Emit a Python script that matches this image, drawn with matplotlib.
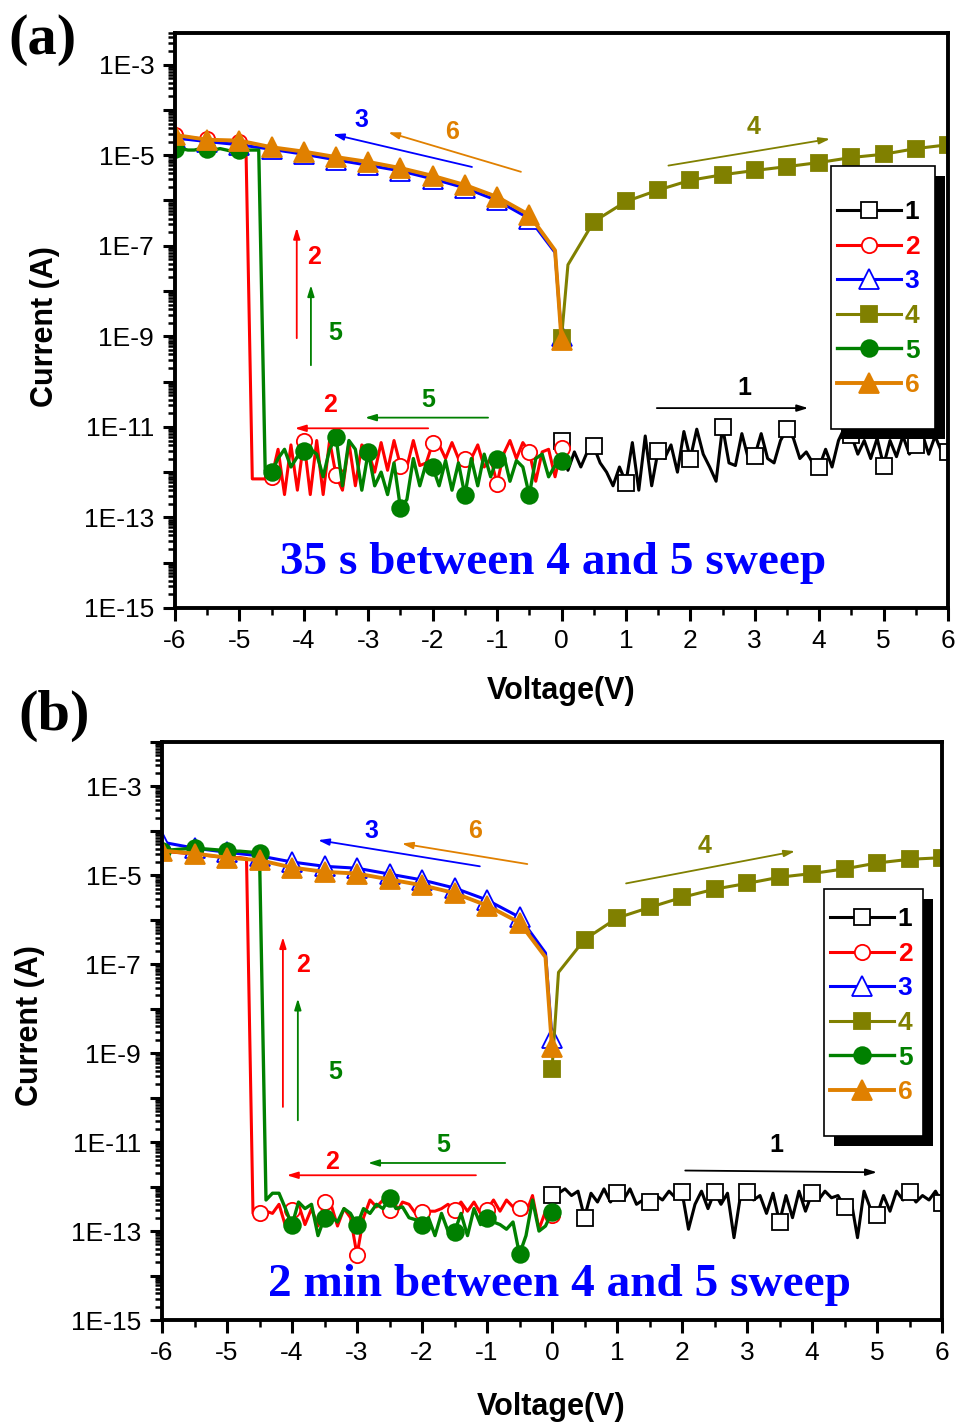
import numpy as np
import matplotlib
matplotlib.use('Agg')
import matplotlib.pyplot as plt
from matplotlib.ticker import LogLocator, FuncFormatter, MultipleLocator, NullFormatter
from matplotlib.patches import Rectangle
from matplotlib.transforms import ScaledTranslation

plt.rcParams['font.family'] = ['Liberation Sans', 'DejaVu Sans']

# sweep voltages: fine sweeps (0.1 V step) and the smoother branches
v_fwd = np.linspace(0, 6, 61)
v_rev = np.linspace(0, -6, 61)
v_fwd_c = [0, 0.1, 0.5, 1, 1.5, 2, 2.5, 3, 3.5, 4, 4.5, 5, 5.5, 6]
v_rev_c = [0, -0.1, -0.5, -1, -1.5, -2, -2.5, -3, -3.5, -4, -4.5, -5, -5.5, -6]

# ---------------- (a) 35 s wait ----------------
a_i1 = [5.0e-12, 1.1e-12, 2.8e-12, 1.3e-12, 2.8e-12, 3.7e-12, 1.6e-12, 1.0e-12, 5.0e-13, 1.3e-12,
        5.9e-13, 4.5e-12, 4.0e-13, 6.3e-12, 5.0e-13, 3.0e-12, 2.0e-12, 4.0e-12, 1.0e-12, 7.9e-12,
        2.0e-12, 8.9e-12, 2.5e-12, 1.3e-12, 6.3e-13, 1.0e-11, 1.6e-12, 1.4e-12, 7.1e-12, 2.0e-12,
        2.3e-12, 7.1e-12, 2.0e-12, 1.6e-12, 5.0e-12, 8.9e-12, 5.6e-12, 2.0e-12, 2.8e-12, 1.6e-12,
        1.3e-12, 3.2e-12, 1.3e-12, 5.0e-12, 1.0e-11, 6.5e-12, 2.5e-12, 5.0e-12, 2.0e-12, 5.6e-12,
        1.4e-12, 5.0e-12, 2.2e-12, 6.3e-12, 2.5e-12, 3.9e-12, 7.1e-12, 2.5e-12, 6.3e-12, 2.8e-12,
        2.8e-12]
a_i2 = [3.4e-12, 7.9e-13, 3.2e-12, 2.8e-12, 6.3e-13, 2.8e-12, 4.5e-12, 2.0e-12, 5.0e-12, 2.5e-12,
        5.6e-13, 2.0e-12, 1.3e-12, 4.0e-12, 2.0e-12, 2.0e-12, 2.0e-12, 4.5e-12, 2.0e-12, 4.0e-12,
        4.4e-12, 1.6e-12, 1.4e-12, 5.0e-12, 1.3e-12, 1.4e-12, 5.0e-12, 1.1e-12, 4.5e-12, 1.0e-12,
        2.8e-12, 4.0e-12, 5.0e-13, 4.5e-12, 4.0e-13, 8.5e-13, 5.0e-12, 3.2e-13, 5.0e-12, 3.2e-13,
        5.0e-12, 4.0e-13, 4.0e-12, 3.2e-13, 3.2e-12, 7.8e-13, 7.1e-13, 7.1e-13, 7.1e-13, 1.9e-5,
        2.0e-5, 2.0e-5, 2.1e-5, 2.1e-5, 2.1e-5, 2.3e-5, 2.3e-5, 2.4e-5, 2.5e-5, 2.6e-5,
        2.8e-5]
a_i3 = [1.0e-9, 7.1e-8, 4.0e-7, 1.0e-6, 1.9e-6, 3.0e-6, 4.5e-6, 6.0e-6, 7.9e-6, 1.05e-5,
        1.35e-5, 1.7e-5, 2.0e-5, 2.4e-5]
a_i4 = [9.1e-10, 3.8e-8, 3.4e-7, 9.5e-7, 1.7e-6, 2.8e-6, 3.7e-6, 4.6e-6, 5.6e-6, 6.9e-6,
        8.9e-6, 1.05e-5, 1.4e-5, 1.7e-5]
a_i5 = [1.8e-12, 1.4e-12, 7.9e-13, 2.5e-12, 2.0e-12, 3.1e-13, 1.3e-12, 1.8e-12, 6.3e-13, 2.5e-12,
        2.0e-12, 7.9e-13, 2.5e-12, 5.0e-13, 2.0e-12, 3.1e-13, 1.6e-12, 4.0e-13, 1.8e-12, 5.0e-13,
        1.3e-12, 1.6e-12, 5.0e-13, 2.0e-12, 2.5e-13, 1.6e-13, 1.6e-12, 3.2e-13, 1.0e-12, 5.0e-13,
        2.8e-12, 4.0e-13, 3.2e-12, 5.0e-12, 5.0e-13, 5.9e-12, 3.2e-12, 7.9e-13, 2.5e-12, 3.2e-12,
        3.0e-12, 2.2e-12, 1.3e-12, 3.2e-12, 2.0e-12, 1.0e-12, 1.1e-12, 1.3e-5, 1.3e-5, 1.3e-5,
        1.3e-5, 1.2e-5, 1.3e-5, 1.4e-5, 1.3e-5, 1.4e-5, 1.4e-5, 1.3e-5, 1.3e-5, 1.4e-5,
        1.4e-5]
a_i6 = [8.3e-10, 7.9e-8, 4.8e-7, 1.2e-6, 2.2e-6, 3.5e-6, 5.2e-6, 7.1e-6, 9.1e-6, 1.2e-5,
        1.5e-5, 2.1e-5, 2.2e-5, 2.8e-5]

# ---------------- (b) 2 min wait ----------------
b_i1 = [6.5e-13, 7.1e-13, 8.9e-13, 6.3e-13, 7.9e-13, 2.0e-13, 7.1e-13, 4.5e-13, 8.9e-13, 4.5e-13,
        7.1e-13, 5.0e-13, 8.9e-13, 4.0e-13, 5.0e-13, 4.5e-13, 6.3e-13, 5.0e-13, 7.9e-13, 5.6e-13,
        7.6e-13, 1.1e-13, 4.0e-13, 7.9e-13, 3.2e-13, 7.6e-13, 4.0e-13, 7.1e-13, 7.1e-14, 6.3e-13,
        7.6e-13, 5.0e-13, 6.3e-13, 2.5e-13, 7.1e-13, 1.6e-13, 6.3e-13, 2.0e-13, 7.9e-13, 2.8e-13,
        7.1e-13, 5.0e-13, 7.9e-13, 5.6e-13, 6.3e-13, 3.5e-13, 5.0e-13, 7.1e-14, 7.9e-13, 3.2e-13,
        2.3e-13, 6.3e-13, 2.8e-13, 7.9e-13, 5.0e-13, 7.6e-13, 4.5e-13, 6.3e-13, 5.0e-13, 7.9e-13,
        4.3e-13]
b_i2 = [2.3e-13, 2.8e-13, 1.1e-13, 6.3e-13, 2.5e-13, 3.3e-13, 3.5e-13, 5.0e-13, 2.8e-13, 5.0e-13,
        3.0e-13, 2.5e-13, 4.5e-13, 2.8e-13, 4.5e-13, 3.0e-13, 4.0e-13, 3.2e-13, 2.8e-13, 2.8e-13,
        2.7e-13, 2.5e-13, 4.0e-13, 4.5e-13, 2.5e-13, 3.0e-13, 5.0e-13, 3.5e-13, 5.0e-13, 2.0e-13,
        2.9e-14, 2.0e-13, 3.2e-13, 1.3e-13, 4.0e-13, 4.5e-13, 1.3e-13, 3.2e-13, 1.4e-13, 4.0e-13,
        3.0e-13, 1.3e-13, 4.0e-13, 2.5e-13, 2.8e-13, 2.5e-13, 2.5e-13, 2.4e-5, 2.5e-5, 2.5e-5,
        2.5e-5, 2.6e-5, 2.7e-5, 2.8e-5, 2.9e-5, 3.0e-5, 3.1e-5, 3.2e-5, 3.3e-5, 3.4e-5,
        3.5e-5]
b_i3 = [2.2e-9, 1.8e-7, 1.15e-6, 2.8e-6, 5.2e-6, 7.9e-6, 1.07e-5, 1.45e-5, 1.6e-5, 2.0e-5,
        2.75e-5, 3.3e-5, 4.1e-5, 5.6e-5]
b_i4 = [4.4e-10, 6.6e-8, 3.6e-7, 1.1e-6, 1.9e-6, 3.2e-6, 4.9e-6, 6.6e-6, 9.1e-6, 1.1e-5,
        1.4e-5, 1.9e-5, 2.3e-5, 2.5e-5]
b_i5 = [2.7e-13, 1.3e-13, 1.0e-13, 5.0e-13, 7.9e-14, 3.0e-14, 1.6e-13, 1.1e-13, 1.4e-13, 1.6e-13,
        2.0e-13, 1.4e-13, 3.2e-13, 7.9e-14, 2.5e-13, 9.5e-14, 1.0e-13, 2.5e-13, 7.9e-14, 2.0e-13,
        1.4e-13, 1.8e-13, 2.0e-13, 3.5e-13, 3.2e-13, 5.5e-13, 3.2e-13, 4.0e-13, 2.5e-13, 3.2e-13,
        1.35e-13, 2.5e-13, 3.2e-13, 1.6e-13, 2.2e-13, 2.0e-13, 7.9e-14, 4.0e-13, 3.2e-13, 4.5e-13,
        1.35e-13, 3.2e-13, 7.1e-13, 7.1e-13, 5.0e-13, 3.2e-5, 3.3e-5, 3.4e-5, 3.5e-5, 3.5e-5,
        3.6e-5, 3.7e-5, 3.8e-5, 3.9e-5, 4.0e-5, 4.1e-5, 4.0e-5, 3.9e-5, 3.8e-5, 3.7e-5,
        3.5e-5]
b_i6 = [1.35e-9, 1.45e-7, 8.7e-7, 2.1e-6, 4.0e-6, 6.0e-6, 8.1e-6, 1.1e-5, 1.2e-5, 1.5e-5,
        2.2e-5, 2.5e-5, 3.1e-5, 3.6e-5]

labels = ['1', '2', '3', '4', '5', '6']
colors = ['black', '#FF0000', '#0000FF', '#808000', '#008000', '#E08000']
markers = ['s', 'o', '^', 's', 'o', '^']
filled = [False, False, False, True, True, True]
msizes = [11, 11, 14, 11, 12, 14]
lwidths = [2.2, 2.2, 2.2, 2.2, 2.4, 2.8]

fig = plt.figure(figsize=(9.6, 14.23), dpi=100)
ax1 = fig.add_axes([175/960, 1-608/1423, 773/960, 575/1423])
ax2 = fig.add_axes([162/960, 1-1320/1423, 780/960, 578/1423])


def draw_curves(ax, curves):
    for k, (v, cur) in enumerate(curves):
        every = 5 if len(v) == 61 else [0] + list(range(2, len(v)))
        ax.plot(v, cur, color=colors[k], lw=lwidths[k], marker=markers[k],
                ms=msizes[k], mec=colors[k], mew=1.3,
                mfc=colors[k] if filled[k] else 'white',
                markevery=every, label=labels[k], zorder=2 + 0.1*k)


def dec_label(val, pos):
    e = int(round(np.log10(val)))
    return '1E%d' % e if e % 2 else ''


def style_axes(ax, ytop):
    ax.set_yscale('log')
    ax.set_xlim(-6, 6)
    ax.set_ylim(1e-15, ytop)
    ax.xaxis.set_major_locator(MultipleLocator(1))
    ax.xaxis.set_minor_locator(MultipleLocator(0.5))
    ax.yaxis.set_major_locator(LogLocator(base=10, numticks=30))
    ax.yaxis.set_minor_locator(LogLocator(base=10, subs=np.arange(2, 10), numticks=30))
    ax.yaxis.set_major_formatter(FuncFormatter(dec_label))
    ax.yaxis.set_minor_formatter(NullFormatter())
    ax.xaxis.set_major_formatter(FuncFormatter(lambda x, p: '%d' % x))
    for s in ax.spines.values():
        s.set_linewidth(2.8)
    ax.tick_params(which='major', direction='out', length=9, width=2.2,
                   labelsize=19, pad=6)
    ax.tick_params(which='minor', direction='out', length=5, width=1.8)
    ax.set_xlabel('Voltage(V)', fontsize=22, weight='bold')
    ax.set_ylabel('Current (A)', fontsize=22, weight='bold')


def legend_box(ax, box, anchor):
    x0, y0, x1, y1 = box
    off = ScaledTranslation(10/100, -10/100, fig.dpi_scale_trans)
    ax.add_patch(Rectangle((x0, y0), x1 - x0, y1 - y0, transform=ax.transAxes + off,
                           facecolor='black', edgecolor='none', zorder=6, clip_on=False))
    ax.add_patch(Rectangle((x0, y0), x1 - x0, y1 - y0, transform=ax.transAxes,
                           facecolor='white', edgecolor='black', lw=1.2, zorder=7,
                           clip_on=False))
    leg = ax.legend(loc='upper left', bbox_to_anchor=anchor, frameon=False,
                    numpoints=1, handlelength=2.4, handletextpad=0.15,
                    labelspacing=0.40, borderpad=0, borderaxespad=0,
                    labelcolor='linecolor', prop={'weight': 'bold', 'size': 19})
    leg.set_zorder(8)


def arrow(ax, tail, head, color):
    ax.annotate('', xy=head, xytext=tail,
                arrowprops=dict(arrowstyle='-|>,head_length=0.65,head_width=0.2',
                                color=color, lw=1.3, shrinkA=0, shrinkB=0))


def tag(ax, x, y, s, color):
    ax.text(x, y, s, color=color, fontsize=18, weight='bold', ha='center', va='center')


# ---------------- panel (a) ----------------
draw_curves(ax1, [(v_fwd, a_i1), (v_rev, a_i2), (v_rev_c, a_i3),
                  (v_fwd_c, a_i4), (v_rev, a_i5), (v_rev_c, a_i6)])
style_axes(ax1, 5e-3)
ax1.xaxis.set_label_coords(0.50, -0.118)
ax1.yaxis.set_label_coords(-0.149, 0.49)
legend_box(ax1, (0.8486, 0.3113, 0.9832, 0.7687), (0.857, 0.709))

arrow(ax1, (-1.39, 5.5e-6), (-3.55, 2.9e-5), colors[2])
tag(ax1, -3.10, 6.0e-5, '3', colors[2])
arrow(ax1, (-0.63, 4.3e-6), (-2.69, 3.2e-5), colors[5])
tag(ax1, -1.70, 3.3e-5, '6', colors[5])
arrow(ax1, (1.66, 5.9e-6), (4.17, 2.3e-5), colors[3])
tag(ax1, 2.98, 4.1e-5, '4', colors[3])
arrow(ax1, (-4.11, 9.1e-10), (-4.11, 2.5e-7), colors[1])
tag(ax1, -3.84, 5.6e-8, '2', colors[1])
arrow(ax1, (-3.89, 2.3e-10), (-3.89, 1.35e-8), colors[4])
tag(ax1, -3.52, 1.2e-9, '5', colors[4])
arrow(ax1, (-2.07, 9.3e-12), (-4.14, 9.3e-12), colors[1])
tag(ax1, -3.59, 3.0e-11, '2', colors[1])
arrow(ax1, (-1.14, 1.6e-11), (-3.05, 1.6e-11), colors[4])
tag(ax1, -2.07, 3.9e-11, '5', colors[4])
arrow(ax1, (1.48, 2.6e-11), (3.83, 2.6e-11), 'black')
tag(ax1, 2.84, 7.1e-11, '1', 'black')
ax1.text(-0.13, 1.0e-14, '35 s between 4 and 5 sweep', color='#0000FF', fontsize=34,
         weight='bold', family='Liberation Serif', ha='center', va='center')

# ---------------- panel (b) ----------------
draw_curves(ax2, [(v_fwd, b_i1), (v_rev, b_i2), (v_rev_c, b_i3),
                  (v_fwd_c, b_i4), (v_rev, b_i5), (v_rev_c, b_i6)])
style_axes(ax2, 1e-2)
ax2.xaxis.set_label_coords(0.499, -0.125)
ax2.yaxis.set_label_coords(-0.15, 0.51)
legend_box(ax2, (0.8487, 0.3183, 0.9756, 0.7457), (0.857, 0.714))

arrow(ax2, (-1.11, 1.6e-5), (-3.6, 6.2e-5), colors[2])
tag(ax2, -2.78, 9.8e-5, '3', colors[2])
arrow(ax2, (-0.38, 1.8e-5), (-2.31, 5.2e-5), colors[5])
tag(ax2, -1.18, 9.8e-5, '6', colors[5])
arrow(ax2, (1.14, 6.6e-6), (3.74, 3.5e-5), colors[3])
tag(ax2, 2.35, 4.7e-5, '4', colors[3])
arrow(ax2, (-4.14, 6.2e-11), (-4.14, 4.1e-7), colors[1])
tag(ax2, -3.83, 9.5e-8, '2', colors[1])
arrow(ax2, (-3.91, 3.1e-11), (-3.91, 1.7e-8), colors[4])
tag(ax2, -3.34, 3.7e-10, '5', colors[4])
arrow(ax2, (-1.17, 1.8e-12), (-4.08, 1.8e-12), colors[1])
tag(ax2, -3.38, 3.5e-12, '2', colors[1])
arrow(ax2, (-0.72, 3.4e-12), (-2.83, 3.4e-12), colors[4])
tag(ax2, -1.68, 8.5e-12, '5', colors[4])
arrow(ax2, (2.05, 2.3e-12), (5.0, 2.1e-12), 'black')
tag(ax2, 3.45, 8.5e-12, '1', 'black')
ax2.text(0.12, 6.2e-15, '2 min between 4 and 5 sweep', color='#0000FF', fontsize=34,
         weight='bold', family='Liberation Serif', ha='center', va='center')

fig.text(8/960, 1-40/1423, '(a)', fontsize=42, weight='bold', family='Liberation Serif',
         ha='left', va='center')
fig.text(18/960, 1-716/1423, '(b)', fontsize=42, weight='bold', family='Liberation Serif',
         ha='left', va='center')

fig.savefig('out.png', dpi=100)
